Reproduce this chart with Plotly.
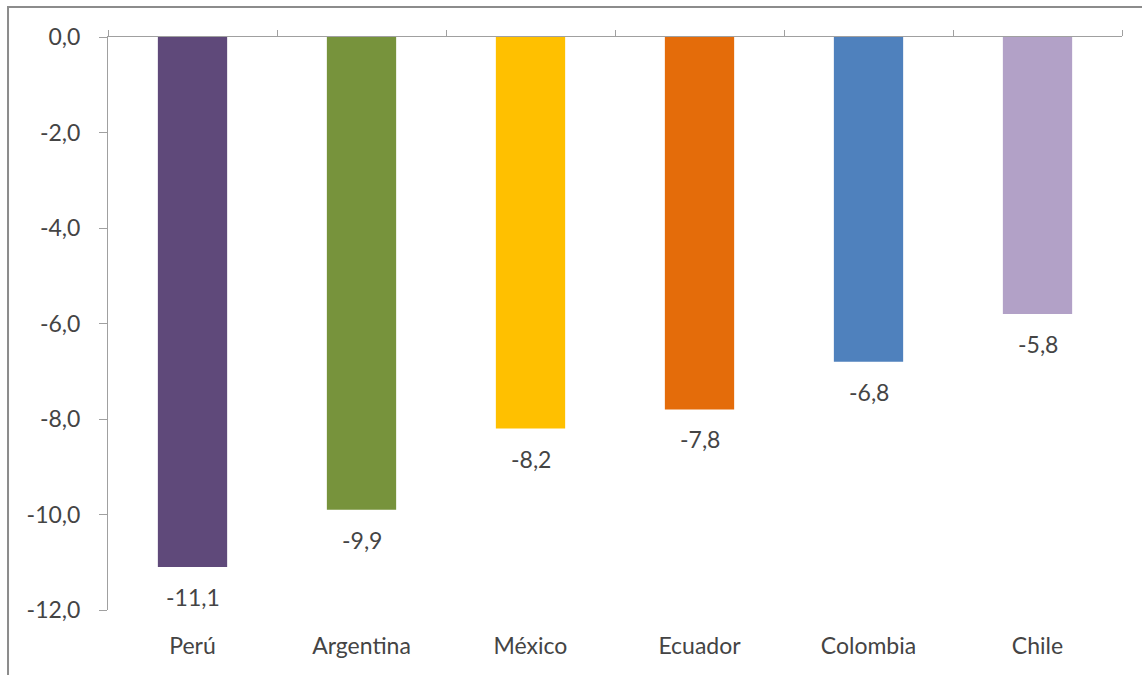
import plotly.graph_objects as go

countries = ["Perú", "Argentina", "México", "Ecuador", "Colombia", "Chile"]
values = [-11.1, -9.9, -8.2, -7.8, -6.8, -5.8]
colors = ["#5F497A", "#77933C", "#FFC000", "#E46C0A", "#4F81BD", "#B2A1C7"]
y_ticks = [0, -2, -4, -6, -8, -10, -12]

def fmt(v):
    return f"{v:.1f}".replace(".", ",")

FONT = "Lato, Open Sans, sans-serif"
TXT = "#444444"
FS = 23

fig = go.Figure()
fig.add_trace(go.Bar(
    x=list(range(len(countries))), y=values,
    marker=dict(color=colors, line=dict(width=0)),
    width=0.41, showlegend=False, hoverinfo="skip",
))
# invisible trace for top category axis
fig.add_trace(go.Scatter(x=[0], y=[0], xaxis="x2", mode="markers",
                         marker=dict(opacity=0), showlegend=False, hoverinfo="skip"))

for i, v in enumerate(values):
    fig.add_annotation(x=i, y=v, text=fmt(v), showarrow=False,
                       yanchor="top", yshift=-14,
                       font=dict(family=FONT, size=FS, color=TXT))

fig.update_layout(
    width=1142, height=675,
    margin=dict(l=108, r=20, t=37, b=65),
    paper_bgcolor="white", plot_bgcolor="white",
    xaxis=dict(range=[-0.5, 5.5], tickvals=list(range(len(countries))),
               ticktext=countries, ticks="", showline=False, showgrid=False,
               zeroline=False, ticklabelstandoff=20,
               tickfont=dict(family=FONT, size=FS, color=TXT)),
    xaxis2=dict(range=[-0.5, 5.5], overlaying="x", side="top", anchor="y",
                tickvals=[i - 0.5 for i in range(len(countries) + 1)],
                showticklabels=False, ticks="outside", ticklen=6,
                tickcolor="#A0A0A0", showline=True, linecolor="#A0A0A0",
                linewidth=1, showgrid=False, zeroline=False),
    yaxis=dict(range=[-12, 0], tickvals=y_ticks, ticktext=[fmt(v) for v in y_ticks],
               ticks="outside", ticklen=8, tickcolor="#A0A0A0",
               showline=True, linecolor="#A0A0A0", linewidth=1,
               showgrid=False, zeroline=False, ticklabelstandoff=14,
               tickfont=dict(family=FONT, size=FS, color=TXT)),
    shapes=[dict(type="rect", xref="paper", yref="paper",
                 x0=-0.0986, x1=1.2, y0=-0.3, y1=1.0524,
                 line=dict(color="#8C8C8C", width=2), layer="below")],
)

fig.write_html("out.html")
